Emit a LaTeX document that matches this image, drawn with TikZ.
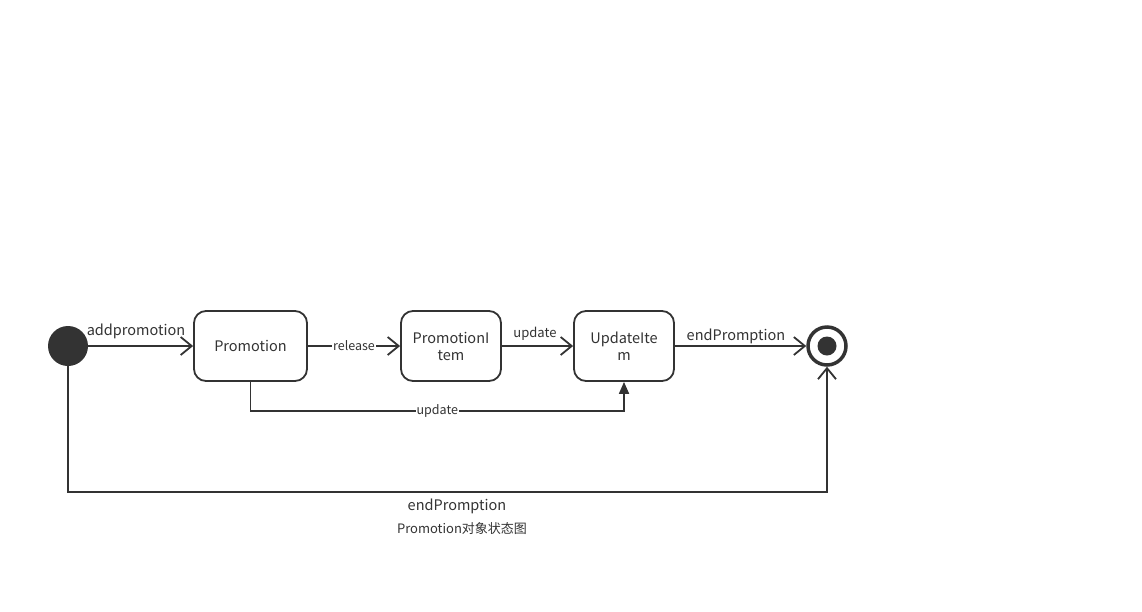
\documentclass[tikz,border=0pt]{standalone}
\usepackage{fontspec}
\setmainfont{Noto Sans CJK SC}
\usetikzlibrary{arrows.meta}
\definecolor{ink}{HTML}{333333}
\tikzset{
  state/.style={draw=ink, line width=1.8pt, rounded corners=12pt, align=center, text=ink,
    font=\fontsize{14.5}{17}\selectfont, inner sep=0pt},
  conn/.style={draw=ink, line width=1.8pt},
  open/.style={conn, -{Straight Barb[length=11pt,width=18pt,line width=1.8pt]}},
  filled/.style={conn, -{Triangle[length=12pt,width=10pt]}},
  lbl/.style={text=ink, font=\fontsize{14.5}{17}\selectfont, inner sep=1pt},
  slbl/.style={text=ink, font=\fontsize{12.5}{15}\selectfont, fill=white, inner sep=1pt},
}
\begin{document}
\begin{tikzpicture}[x=1pt,y=-1pt]
\useasboundingbox[fill=white] (0,0) rectangle (1142,611);
\node[circle, fill=ink, minimum size=40pt, inner sep=0pt] (init) at (68,346) {};
\node[state, minimum width=113pt, minimum height=70pt] (promo) at (250.5,346) {Promotion};
\node[state, minimum width=100pt, minimum height=70pt] (pitem) at (451,346) {PromotionI\\tem};
\node[state, minimum width=100pt, minimum height=70pt] (uitem) at (624,346) {UpdateIte\\m};
\node[circle, draw=ink, line width=3.5pt, minimum size=38pt, inner sep=0pt] (final) at (827,346) {};
\node[circle, fill=ink, minimum size=19pt, inner sep=0pt] at (final) {};
\coordinate (c1) at (68,492);
\coordinate (c2) at (827,492);
\coordinate (c3) at (250.5,411);
\coordinate (c4) at (624,411);

\draw[open] (init) -- (promo);
\node[lbl] at (136,331) {addpromotion};
\draw[open] (promo) -- node[slbl] {release} (pitem);
\draw[open] (pitem) -- (uitem);
\node[lbl, font=\fontsize{13}{15}\selectfont] at (535,334) {update};
\draw[open] (uitem) -- (final);
\node[lbl] at (736,336) {endPromption};
\draw[filled] (promo.south) -- (c3) -- node[slbl] {update} (c4) -- (uitem.south);
\draw[open] (init.south) -- (c1) -- (c2) -- (final.south);
\node[lbl] at (457,506) {endPromption};
\node[lbl, font=\fontsize{13}{15}\selectfont] at (462,529) {Promotion对象状态图};
\end{tikzpicture}
\end{document}
